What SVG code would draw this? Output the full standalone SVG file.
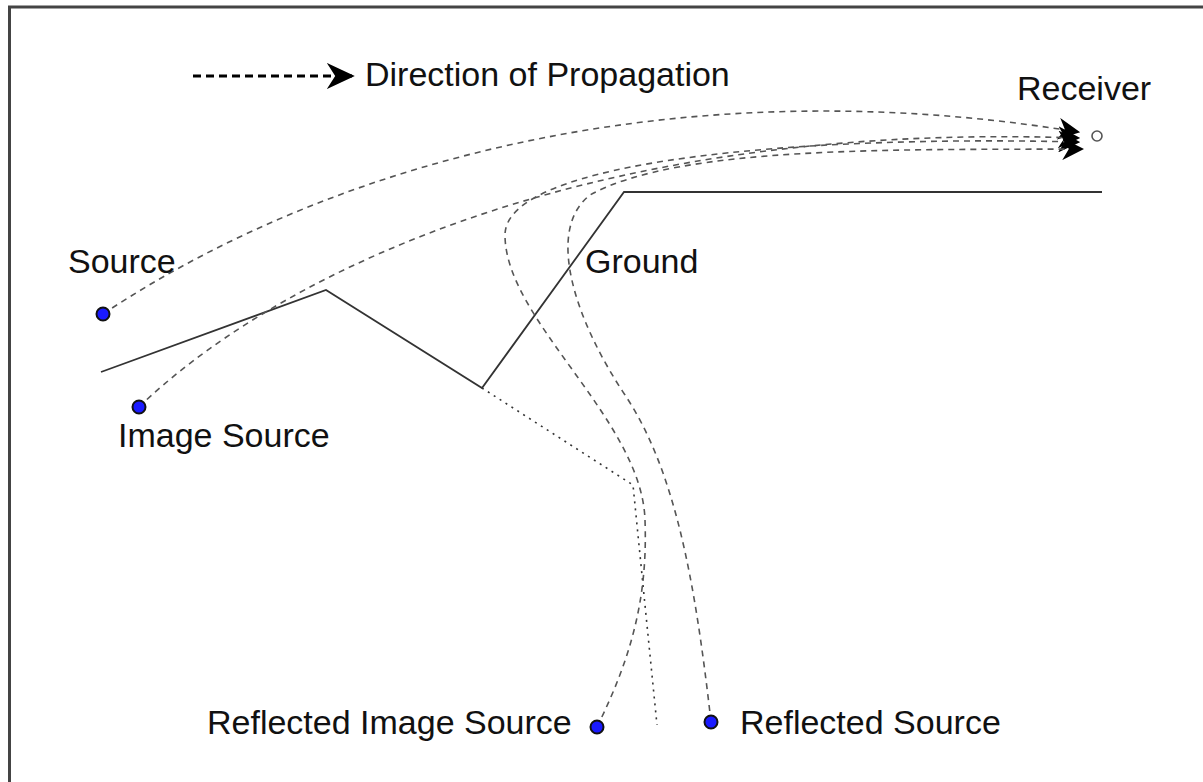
<svg xmlns="http://www.w3.org/2000/svg" width="1203" height="782" viewBox="0 0 1203 782">
<style>
.lbl{font-family:"Liberation Sans",Arial,sans-serif;font-size:34px;fill:#111}
.ray{fill:none;stroke:#555;stroke-width:1.6;stroke-dasharray:6 5}
.dot{fill:#1a1aff;stroke:#111;stroke-width:2}
</style>
<defs>
<marker id="ah2" viewBox="0 0 10 10" refX="9" refY="5" markerWidth="22" markerHeight="22" markerUnits="userSpaceOnUse" orient="auto">
<path d="M0,0 L10,5 L0,10 L3,5 Z" fill="#000"/>
</marker>
<marker id="ahL" viewBox="0 0 10 10" refX="9" refY="5" markerWidth="28" markerHeight="26" markerUnits="userSpaceOnUse" orient="auto" preserveAspectRatio="none">
<path d="M0,0 L10,5 L0,10 L3,5 Z" fill="#000"/>
</marker>
</defs>
<rect x="0" y="0" width="1203" height="782" fill="#fff"/>
<rect x="9.5" y="7" width="1300" height="900" fill="none" stroke="#444" stroke-width="3"/>
<g id="legend">
<line x1="193" y1="76" x2="352" y2="76" stroke="#000" stroke-width="3" stroke-dasharray="8 5" marker-end="url(#ahL)"/>
<text class="lbl" x="365" y="86">Direction of Propagation</text>
</g>
<g id="ground">
<polyline points="101,372 326,290 482,388 624,192 1102,192" fill="none" stroke="#333" stroke-width="1.8"/>
<polyline points="482,388 633,485 657,725" fill="none" stroke="#333" stroke-width="1.6" stroke-dasharray="2 5"/>
<text class="lbl" x="585" y="273">Ground</text>
</g>
<g id="connectors">
<path class="ray" d="M103,314 C 350,150 700,70 1078,132" marker-end="url(#ah2)"/>
<path class="ray" d="M139,407 C 260,290 560,120 1078,138" marker-end="url(#ah2)"/>
<path class="ray" d="M597,727 C 630,660 648,600 645,520 C 642,420 505,320 505,235 C 505,160 800,135 1078,142" marker-end="url(#ah2)"/>
<path class="ray" d="M711,722 C 695,580 675,470 625,395 C 575,320 545,230 590,195 C 680,145 900,150 1082,149" marker-end="url(#ah2)"/>
</g>
<g id="source">
<circle class="dot" cx="103" cy="314" r="6.5"/>
<text class="lbl" x="68" y="273">Source</text>
</g>
<g id="image-source">
<circle class="dot" cx="139" cy="407" r="6.5"/>
<text class="lbl" x="118" y="447">Image Source</text>
</g>
<g id="reflected-image-source">
<circle class="dot" cx="597" cy="727" r="6.5"/>
<text class="lbl" x="207" y="734">Reflected Image Source</text>
</g>
<g id="reflected-source">
<circle class="dot" cx="711" cy="722" r="6.5"/>
<text class="lbl" x="740" y="734">Reflected Source</text>
</g>
<g id="receiver">
<circle cx="1097" cy="136" r="5" fill="#fff" stroke="#555" stroke-width="1.6"/>
<text class="lbl" x="1017" y="100">Receiver</text>
</g>
</svg>
